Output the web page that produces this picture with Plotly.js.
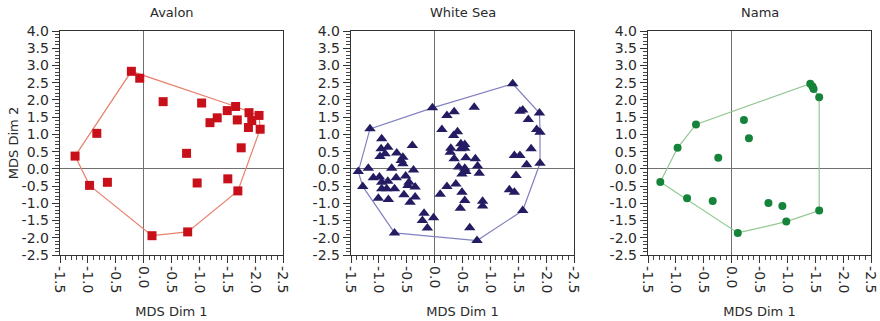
<!DOCTYPE html>
<html>
<head>
<meta charset="utf-8">
<script src="https://cdn.plot.ly/plotly-3.0.1.min.js"></script>
<style>html,body{margin:0;padding:0;background:#fff;}#chart{width:880px;height:321px;}</style>
</head>
<body>
<div id="chart"></div>
<script>
// ---- Data ----
const panelTitles = ["Avalon", "White Sea", "Nama"];

const avalonX = [-0.22, -0.07, 0.35, 1.04, 1.65, 1.50, 1.89, 2.07, 1.32, 1.19, 1.68, 1.94, 1.88, 2.09, 1.75, 0.77, -0.84, -1.23, -0.97, -0.65, 0.96, 1.51, 1.69, 0.79, 0.15];
const avalonY = [2.83, 2.63, 1.95, 1.91, 1.81, 1.69, 1.63, 1.55, 1.48, 1.34, 1.42, 1.40, 1.20, 1.15, 0.61, 0.45, 1.03, 0.37, -0.48, -0.39, -0.41, -0.29, -0.64, -1.83, -1.94];

const whiteSeaX = [1.40, 1.88, 1.83, 1.89, 1.89, 1.58, 0.76, -0.72, -1.29, -1.37, -1.16, -0.04,
  -0.95, -0.96, -0.84, -0.98, -0.89, -0.68, -0.57, -0.60, -0.57, -0.40, -1.19, -0.77, -0.38, -1.10, -0.99, -0.95, -0.84, -0.69, -0.52, -0.46, -0.35, -0.95, -0.86, -0.72, -0.48, -0.55, -1.01, -0.83, -0.44, -0.35, -0.19, -0.22, -0.13, -0.02,
  0.22, 0.35, 0.71, 0.13, 0.34, 0.41, 0.29, 0.28, 0.35, 0.47, 0.54, 0.47, 0.54, 0.56, 0.43, 0.54, 0.56, 0.49, 0.38, 0.22, 0.10, 0.49, 0.54, 0.46, 0.63, 0.73, 0.77, 0.80, 0.86, 0.86,
  1.53, 1.58, 1.68, 1.73, 1.43, 1.53, 1.65, 1.46, 1.34, 1.43];
const whiteSeaY = [2.47, 1.62, 1.14, 1.06, 0.16, -1.21, -2.08, -1.86, -0.51, -0.08, 1.16, 1.77,
  0.87, 0.58, 0.63, 0.36, 0.44, 0.46, 0.34, 0.24, 0.15, 0.68, 0.02, 0.02, -0.03, -0.26, -0.24, -0.39, -0.36, -0.26, -0.21, -0.39, -0.53, -0.58, -0.58, -0.58, -0.48, -0.75, -0.85, -0.89, -0.97, -0.82, -1.29, -1.50, -1.72, -1.42,
  1.55, 1.66, 1.79, 1.14, 0.97, 1.08, 0.60, 0.48, 0.29, 0.73, 0.71, 0.58, 0.60, 0.32, 0.05, 0.02, -0.08, -0.15, -0.44, -0.51, -0.74, -0.68, -0.92, -1.14, -1.71, 0.29, 0.08, -0.13, -0.94, -1.08,
  1.67, 1.71, 1.43, 0.58, 0.39, 0.39, 0.12, -0.19, -0.61, -0.68];

const namaX = [1.41, 1.45, 1.47, 1.57, 1.57, 0.98, 0.91, 0.66, 0.11, -0.34, -0.80, -1.28, -0.97, -0.64, -0.24, 0.22, 0.31];
const namaY = [2.47, 2.39, 2.32, 2.08, -1.21, -1.53, -1.08, -0.99, -1.86, -0.93, -0.85, -0.38, 0.61, 1.29, 0.32, 1.42, 0.89];

const xTickVals = [-1.5, -1.0, -0.5, 0.0, 0.5, 1.0, 1.5, 2.0, 2.5];
const xTickLabels = ["-1.5", "-1.0", "-0.5", "0.0", "-0.5", "-1.0", "-1.5", "-2.0", "-2.5"];
const yTickVals = [-2.5, -2.0, -1.5, -1.0, -0.5, 0.0, 0.5, 1.0, 1.5, 2.0, 2.5, 3.0, 3.5, 4.0];
const yTickLabels = ["-2.5", "-2.0", "-1.5", "-1.0", "-0.5", "0.0", "0.5", "1.0", "1.5", "2.0", "2.5", "3.0", "3.5", "4.0"];

// ---- Styles ----
const markerColors = ["#c8101a", "#241c62", "#15843a"];
const hullColors = ["#e8806c", "#8282c2", "#92c892"];
const symbols = ["square", "triangle-up", "circle"];
const markerSizes = [9, 10, 8];
const domains = [[0.0682, 0.3216], [0.3989, 0.6523], [0.7364, 0.9898]];

function convexHull(xs, ys) {
  const pts = xs.map((x, i) => [x, ys[i]]).sort((a, b) => a[0] - b[0] || a[1] - b[1]);
  const cross = (o, a, b) => (a[0] - o[0]) * (b[1] - o[1]) - (a[1] - o[1]) * (b[0] - o[0]);
  const lower = [];
  for (const p of pts) { while (lower.length >= 2 && cross(lower[lower.length - 2], lower[lower.length - 1], p) <= 0) lower.pop(); lower.push(p); }
  const upper = [];
  for (let i = pts.length - 1; i >= 0; i--) { const p = pts[i]; while (upper.length >= 2 && cross(upper[upper.length - 2], upper[upper.length - 1], p) <= 0) upper.pop(); upper.push(p); }
  upper.pop(); lower.pop();
  const hull = lower.concat(upper);
  hull.push(hull[0]);
  return hull;
}

const series = [[avalonX, avalonY], [whiteSeaX, whiteSeaY], [namaX, namaY]];
const FONT = "DejaVu Sans, sans-serif";
const TXT = "#2a2a2a";
const traces = [];
const layout = {
  width: 880, height: 321,
  margin: {l: 0, r: 0, t: 31, b: 66},
  paper_bgcolor: "#fff", plot_bgcolor: "#fff",
  showlegend: false,
  font: {family: FONT, size: 12, color: TXT},
  annotations: []
};

series.forEach((s, i) => {
  const n = i === 0 ? "" : String(i + 1);
  const hull = convexHull(s[0], s[1]);
  traces.push({
    x: hull.map(p => p[0]), y: hull.map(p => p[1]),
    xaxis: "x" + n, yaxis: "y" + n, type: "scatter", mode: "lines",
    line: {color: hullColors[i], width: 1.2}, hoverinfo: "skip"
  });
  traces.push({
    x: s[0], y: s[1], xaxis: "x" + n, yaxis: "y" + n, type: "scatter", mode: "markers",
    marker: {symbol: symbols[i], size: markerSizes[i], color: markerColors[i], line: {width: 0}}
  });
  layout["xaxis" + n] = {
    domain: domains[i], anchor: "y" + n, range: [-1.5, 2.5],
    tickmode: "array", tickvals: xTickVals, ticktext: xTickLabels, tickangle: 90,
    ticks: "outside", ticklen: 7, tickcolor: "#333", tickwidth: 1,
    minor: {tickmode: "linear", tick0: 0, dtick: 0.1, ticks: "outside", ticklen: 3.5, tickcolor: "#444", tickwidth: 1},
    showline: true, linecolor: "#333", linewidth: 1.3, mirror: true,
    showgrid: false, zeroline: true, zerolinecolor: "#707070", zerolinewidth: 1,
    tickfont: {family: FONT, size: 14, color: TXT},
    title: {text: "MDS Dim 1", font: {family: FONT, size: 13, color: TXT}, standoff: 14}
  };
  layout["yaxis" + n] = {
    domain: [0, 1], anchor: "x" + n, range: [-2.5, 4.0],
    tickmode: "array", tickvals: yTickVals, ticktext: yTickLabels,
    ticks: "outside", ticklen: 7, tickcolor: "#333", tickwidth: 1,
    minor: {tickmode: "linear", tick0: 0, dtick: 0.1, ticks: "outside", ticklen: 3.5, tickcolor: "#444", tickwidth: 1},
    showline: true, linecolor: "#333", linewidth: 1.3, mirror: true,
    showgrid: false, zeroline: true, zerolinecolor: "#707070", zerolinewidth: 1,
    tickfont: {family: FONT, size: 14, color: TXT},
    title: i === 0 ? {text: "MDS Dim 2", font: {family: FONT, size: 13, color: TXT}, standoff: 0} : {text: ""}
  };
  layout.annotations.push({
    text: panelTitles[i], xref: "paper", yref: "paper",
    x: (domains[i][0] + domains[i][1]) / 2, y: 1, xanchor: "center", yanchor: "bottom", yshift: 9,
    showarrow: false, font: {family: FONT, size: 13, color: TXT}
  });
});

Plotly.newPlot("chart", traces, layout, {displayModeBar: false, staticPlot: true});
</script>
</body>
</html>
